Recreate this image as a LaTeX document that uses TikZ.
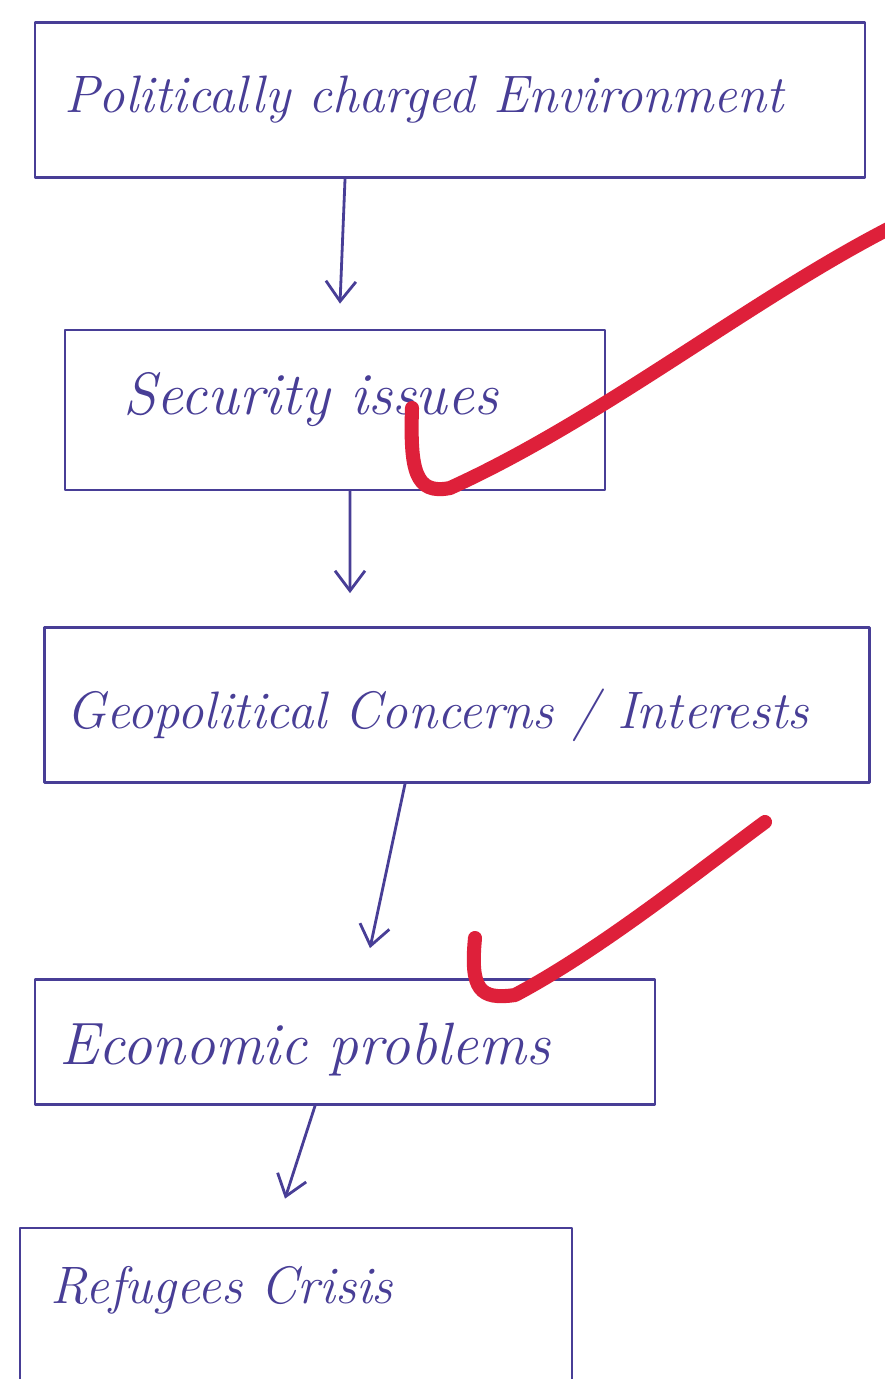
\documentclass[tikz,border=0pt]{standalone}
\usetikzlibrary{arrows.meta,positioning}
\definecolor{ink}{RGB}{72,62,150}
\definecolor{checkred}{RGB}{222,32,58}
\begin{document}
\begin{tikzpicture}[x=0.02cm,y=-0.02cm,line join=round,line cap=round,
		>={Straight Barb[length=4mm,width=6mm]},
		box/.style={draw=ink,line width=1.6pt,inner sep=0pt},
		txt/.style={text=ink,font=\fontsize{30}{36}\selectfont\itshape,inner sep=0pt},
		bigtxt/.style={txt,font=\fontsize{34}{40}\selectfont\itshape},
		arr/.style={->,draw=ink,line width=1.6pt},
		tick/.style={draw=checkred,line width=8pt}]
	\clip (0,0) rectangle (885,1379);
	\fill[white] (0,0) rectangle (885,1379);
	% boxes
	\node[box,minimum width=16.6cm,minimum height=3.1cm] (pce) at (450,100) {};
	\node[box,minimum width=10.8cm,minimum height=3.2cm] (sec) at (335,410) {};
	\node[box,minimum width=16.5cm,minimum height=3.1cm] (geo) at (457,705) {};
	\node[box,minimum width=12.4cm,minimum height=2.5cm] (eco) at (345,1042) {};
	\node[box,minimum width=11.04cm,minimum height=3.6cm] (ref) at (296,1318) {};
	% texts
	\node[txt,right=0.6cm of pce.west] (pcetxt) {Politically charged Environment};
	\node[bigtxt,right=1.2cm of sec.west,yshift=0.2cm] (sectxt) {Security issues};
	\node[txt,right=0.46cm of geo.west,yshift=-0.2cm] (geotxt) {Geopolitical Concerns / Interests};
	\node[bigtxt,right=0.5cm of eco.west,yshift=-0.16cm] (ecotxt) {Economic problems};
	\node[txt,anchor=west] (reftxt) at (50,1290) {Refugees Crisis};
	% arrows
	\draw[arr] ([xshift=-2.1cm]pce.south) -- ([xshift=0.1cm,yshift=0.5cm]sec.north);
	\draw[arr] ([xshift=0.3cm]sec.south) -- ([xshift=-2.14cm,yshift=0.66cm]geo.north);
	\draw[arr] ([xshift=-1.04cm]geo.south) -- ([xshift=0.5cm,yshift=0.6cm]eco.north);
	\draw[arr] ([xshift=-0.6cm]eco.south) -- ([xshift=-0.22cm,yshift=0.56cm]ref.north);
	% red ticks
	\draw[tick] (412,408) .. controls (410,470) and (415,495) .. (450,488)
		.. controls (600,420) and (750,300) .. (890,228);
	\draw[tick] (475,938) .. controls (470,990) and (480,1000) .. (515,995)
		.. controls (600,950) and (700,870) .. (765,822);
\end{tikzpicture}
\end{document}
